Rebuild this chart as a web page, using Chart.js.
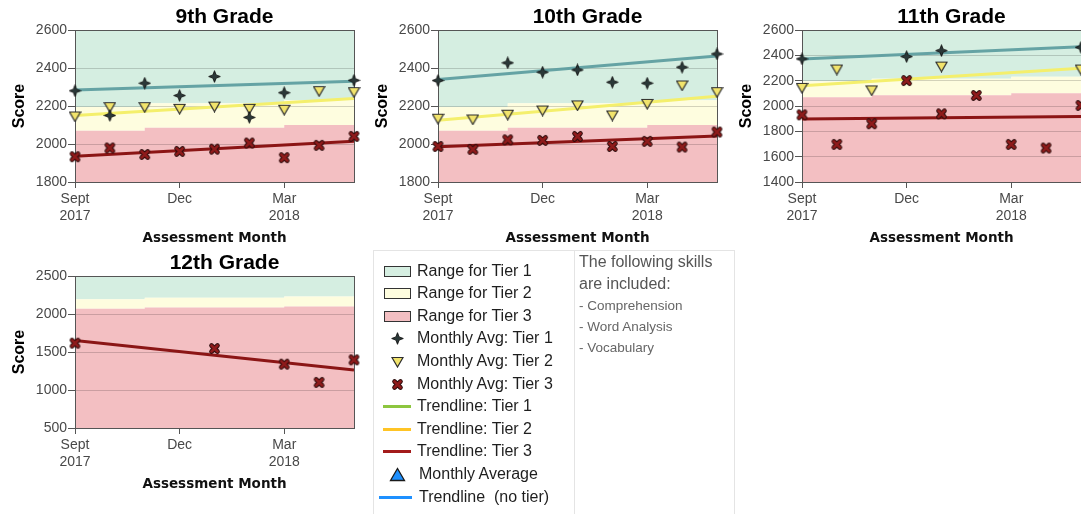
<!DOCTYPE html>
<html><head><meta charset="utf-8">
<script src="https://cdn.jsdelivr.net/npm/chart.js@4.4.1/dist/chart.umd.min.js"></script>
<style>
html,body{margin:0;padding:0;background:#fff;width:1081px;height:514px;overflow:hidden;position:relative;font-family:"Liberation Sans",Arial,sans-serif;}
canvas.ch{position:absolute;}
#legend{position:absolute;left:373px;top:250px;width:362px;height:290px;border:1px solid #e4e4e4;box-sizing:border-box;}
#legend .div{position:absolute;left:200px;top:0;width:1px;height:100%;background:#e4e4e4;}
#legend .row{position:absolute;left:0;height:20px;width:200px;}
#legend .lt{position:absolute;top:0;line-height:20px;font-size:16px;color:#1e1e1e;white-space:pre;}
#legend .ico{position:absolute;}
#legend .rt{position:absolute;left:205px;line-height:20px;white-space:pre;}
</style></head><body>
<canvas class="ch" id="c9" width="366" height="247" style="left:0;top:0"></canvas>
<canvas class="ch" id="c10" width="366" height="247" style="left:363px;top:0"></canvas>
<canvas class="ch" id="c11" width="366" height="247" style="left:727px;top:0"></canvas>
<canvas class="ch" id="c12" width="366" height="247" style="left:0;top:246px"></canvas>
<div id="legend"><div class="div"></div></div>
<script>
// ---- data ----
const months = [0, 1, 2, 3, 4, 5, 6, 7, 8];           // Sept 2017 ... May 2018
const trendMonths = [0, 8];
const tickMonths = [0, 3, 6];
const tickLabels = [['Sept', '2017'], 'Dec', ['Mar', '2018']];

const tier3Top = [2070, 2070, 2085, 2085, 2085, 2085, 2100, 2100, 2100];
const tier2Top = [2195, 2195, 2215, 2215, 2215, 2215, 2230, 2230, 2230];

const g9Tier1 = [2280, 2150, 2320, 2255, 2355, 2140, 2270, null, 2335];
const g9Tier2 = [2145, 2194, 2194, 2185, 2197, 2185, 2180, 2278, 2273];
const g9Tier3 = [1933, 1979, 1945, 1961, 1973, 2005, 1928, 1993, 2040];
const g9Trend1 = [2284, 2330];
const g9Trend2 = [2150, 2240];
const g9Trend3 = [1935, 2015];

const g10Tier1 = [2334, null, 2427, 2378, 2390, 2325, 2320, 2404, 2474];
const g10Tier2 = [2133, 2129, 2154, 2176, 2203, 2150, 2211, 2308, 2273];
const g10Tier3 = [1987, 1972, 2022, 2019, 2040, 1987, 2014, 1984, 2063];
const g10Trend1 = [2340, 2463];
const g10Trend2 = [2125, 2252];
const g10Trend3 = [1985, 2042];

const g11Tier1 = [2372, null, null, 2390, 2437, null, null, null, 2463];
const g11Tier2 = [2143, 2288, 2123, null, 2311, null, null, null, 2288];
const g11Tier3 = [1930, 1697, 1860, 2201, 1938, 2083, 1697, 1668, 2004];
const g11Trend1 = [2372, 2468];
const g11Trend2 = [2160, 2298];
const g11Trend3 = [1898, 1918];

const g12Tier1 = [null, null, null, null, null, null, null, null, null];
const g12Tier2 = [null, null, null, null, null, null, null, null, null];
const g12Tier3 = [1616, null, null, null, 1546, null, 1340, 1100, 1397];
const g12Trend1 = [];
const g12Trend2 = [];
const g12Trend3 = [1650, 1262];

// ---- styles ----
const GRN = '#d5eee1', YEL = '#fefddf', RED = '#f3bfc2';

function mk(w, h, draw) { const c = document.createElement('canvas'); c.width = w; c.height = h; draw(c.getContext('2d')); return c; }
function drawStar(g) {
  const c = 6.5, R = 5.8, r = 1.6;
  g.beginPath();
  g.moveTo(c, c - R); g.lineTo(c + r, c - r); g.lineTo(c + R, c); g.lineTo(c + r, c + r);
  g.lineTo(c, c + R); g.lineTo(c - r, c + r); g.lineTo(c - R, c); g.lineTo(c - r, c - r); g.closePath();
  g.fillStyle = '#2a3838'; g.fill(); g.strokeStyle = '#111'; g.lineWidth = 0.9; g.stroke();
}
function drawTri(g) {
  g.beginPath(); g.moveTo(1, 1.5); g.lineTo(12, 1.5); g.lineTo(6.5, 11); g.closePath();
  g.fillStyle = '#f2e46c'; g.fill(); g.strokeStyle = '#2d2d2d'; g.lineWidth = 1.2; g.stroke();
}
function drawX(g) {
  g.lineCap = 'round';
  g.beginPath(); g.moveTo(3.5, 3.5); g.lineTo(9.5, 9.5); g.moveTo(9.5, 3.5); g.lineTo(3.5, 9.5);
  g.strokeStyle = '#2a0a0a'; g.lineWidth = 4.6; g.stroke();
  g.strokeStyle = '#8e1b1b'; g.lineWidth = 2.8; g.stroke();
}
function drawUp(g) {
  g.beginPath(); g.moveTo(8.5, 1.5); g.lineTo(15.5, 13.5); g.lineTo(1.5, 13.5); g.closePath();
  g.fillStyle = '#1e90ff'; g.fill(); g.strokeStyle = '#1a1a1a'; g.lineWidth = 1.3; g.stroke();
}
const starImg = mk(13, 13, drawStar);
const triImg = mk(13, 12, drawTri);
const xImg = mk(13, 13, drawX);

function pts(arr) { return months.map((m, i) => arr[i] == null ? null : {x: m, y: arr[i]}).filter(Boolean); }
function trend(arr) { return arr.map((v, i) => ({x: trendMonths[i], y: v})); }

Chart.defaults.font.family = '"Liberation Sans", Arial, sans-serif';

const titleShift = {
  id: 'titleShift',
  afterLayout(chart, args, opts) {
    const t = chart.titleBlock;
    if (t && opts.dx) { t.left += opts.dx; t.right += opts.dx; }
  }
};
const frame = {
  id: 'frame',
  beforeDatasetsDraw(chart) {
    const {ctx, chartArea: a} = chart;
    ctx.save();
    ctx.strokeStyle = '#555'; ctx.lineWidth = 1;
    const t = Math.round(a.top) + 0.5, r = Math.round(a.right) + 0.5;
    ctx.beginPath();
    ctx.moveTo(Math.round(a.left), t); ctx.lineTo(r + 0.5, t);
    ctx.moveTo(r, t); ctx.lineTo(r, Math.round(a.bottom) + 1);
    ctx.stroke();
    ctx.restore();
  }
};

function build(id, title, yMin, yMax, yStep, t1, t2, t3, tr1, tr2, tr3) {
  const band = {stepped: true, borderWidth: 0, borderColor: 'transparent', pointRadius: 0};
  return new Chart(document.getElementById(id), {
    type: 'line',
    data: {datasets: [
      {label: 'Monthly Avg: Tier 1', data: pts(t1), showLine: false, pointStyle: starImg, pointRadius: 5, order: 1, clip: false},
      {label: 'Monthly Avg: Tier 2', data: pts(t2), showLine: false, pointStyle: triImg, pointRadius: 5, order: 2, clip: false},
      {label: 'Monthly Avg: Tier 3', data: pts(t3), showLine: false, pointStyle: xImg, pointRadius: 5, order: 3, clip: false},
      {label: 'Trendline: Tier 1', data: trend(tr1), borderColor: 'rgba(95,158,160,0.95)', borderWidth: 3, pointRadius: 0, order: 4},
      {label: 'Trendline: Tier 2', data: trend(tr2), borderColor: '#f4ef6c', borderWidth: 3, pointRadius: 0, order: 5},
      {label: 'Trendline: Tier 3', data: trend(tr3), borderColor: '#8b1515', borderWidth: 3, pointRadius: 0, order: 6},
      Object.assign({label: 'Range for Tier 3', data: pts(tier3Top), fill: 'start', backgroundColor: RED, order: 10}, band),
      Object.assign({label: 'Range for Tier 2', data: pts(tier2Top), fill: 6, backgroundColor: YEL, order: 11}, band),
      Object.assign({label: 'Range for Tier 1', data: pts(tier2Top), fill: 'end', backgroundColor: GRN, order: 12}, band)
    ]},
    options: {
      responsive: false, animation: false, events: [],
      layout: {padding: {left: 0, right: 12, top: 0, bottom: 0}},
      plugins: {
        legend: {display: false}, tooltip: {enabled: false},
        filler: {drawTime: 'beforeDraw'},
        title: {display: true, text: title, fullSize: false, color: '#000',
          font: {size: 21, weight: 'bold', lineHeight: '25px'}, padding: {top: 5, bottom: 0}},
        titleShift: {dx: 10}
      },
      scales: {
        x: {
          type: 'linear', min: 0, max: 8,
          afterFit: s => { s.height = 65; },
          afterBuildTicks: s => { s.ticks = tickMonths.map(v => ({value: v})); },
          ticks: {callback: (v, i) => tickLabels[i], color: '#484848', font: {size: 14}, padding: 3, maxRotation: 0, autoSkip: false},
          grid: {drawOnChartArea: false, drawTicks: true, tickLength: 6, tickColor: '#555'},
          border: {display: true, color: '#555'},
          title: {display: true, text: 'Assessment Month', color: '#111',
            font: {family: '"DejaVu Sans", sans-serif', size: 13.5, weight: 'bold'}, padding: {top: 0, bottom: 0}}
        },
        y: {
          min: yMin, max: yMax,
          afterFit: s => { s.width = 75; },
          ticks: {stepSize: yStep, callback: v => String(v), color: '#484848', font: {size: 14}, padding: 1},
          grid: {color: 'rgba(0,0,0,0.17)', tickColor: '#555', tickLength: 7},
          border: {color: '#555'},
          title: {display: true, text: 'Score', color: '#000', font: {size: 16, weight: 'bold'}, padding: {top: 9.5, bottom: 0}}
        }
      }
    },
    plugins: [titleShift, frame]
  });
}

build('c9', '9th Grade', 1800, 2600, 200, g9Tier1, g9Tier2, g9Tier3, g9Trend1, g9Trend2, g9Trend3);
build('c10', '10th Grade', 1800, 2600, 200, g10Tier1, g10Tier2, g10Tier3, g10Trend1, g10Trend2, g10Trend3);
build('c11', '11th Grade', 1400, 2600, 200, g11Tier1, g11Tier2, g11Tier3, g11Trend1, g11Trend2, g11Trend3);
build('c12', '12th Grade', 500, 2500, 500, g12Tier1, g12Tier2, g12Tier3, g12Trend1, g12Trend2, g12Trend3);

// ---- legend panel ----
const legendItems = [
  {kind: 'box', color: GRN, text: 'Range for Tier 1'},
  {kind: 'box', color: YEL, text: 'Range for Tier 2'},
  {kind: 'box', color: RED, text: 'Range for Tier 3'},
  {kind: 'img', draw: drawStar, w: 13, h: 13, text: 'Monthly Avg: Tier 1'},
  {kind: 'img', draw: drawTri, w: 13, h: 12, text: 'Monthly Avg: Tier 2'},
  {kind: 'img', draw: drawX, w: 13, h: 13, text: 'Monthly Avg: Tier 3'},
  {kind: 'line', color: '#8dc63f', text: 'Trendline: Tier 1'},
  {kind: 'line', color: '#ffc425', text: 'Trendline: Tier 2'},
  {kind: 'line', color: '#a31b1b', text: 'Trendline: Tier 3'},
  {kind: 'img', draw: drawUp, w: 17, h: 15, text: 'Monthly Average', tx: 45},
  {kind: 'line', color: '#1e90ff', text: 'Trendline  (no tier)', tx: 45, x0: 5, x1: 38}
];
const lg = document.getElementById('legend');
legendItems.forEach((it, i) => {
  const cy = 19.6 + 22.6 * i;
  const row = document.createElement('div');
  row.className = 'row'; row.style.top = (cy - 10) + 'px';
  let ico;
  if (it.kind === 'box') {
    ico = document.createElement('div');
    ico.className = 'ico';
    Object.assign(ico.style, {left: '10px', top: '5px', width: '27px', height: '11px', background: it.color, border: '1px solid #333', boxSizing: 'border-box'});
  } else if (it.kind === 'line') {
    ico = document.createElement('div');
    ico.className = 'ico';
    const x0 = it.x0 || 9, x1 = it.x1 || 37;
    Object.assign(ico.style, {left: x0 + 'px', top: '9px', width: (x1 - x0) + 'px', height: '3px', background: it.color});
  } else {
    ico = mk(it.w, it.h, it.draw);
    ico.className = 'ico';
    ico.style.left = (23 - it.w / 2) + 'px';
    ico.style.top = (10.5 - it.h / 2) + 'px';
  }
  row.appendChild(ico);
  const t = document.createElement('span');
  t.className = 'lt'; t.style.left = (it.tx || 43) + 'px'; t.textContent = it.text;
  row.appendChild(t);
  lg.appendChild(row);
});
const notes = [
  {text: 'The following skills', cy: 10.5, size: 16, color: '#555'},
  {text: 'are included:', cy: 32.5, size: 16, color: '#555'},
  {text: '- Comprehension', cy: 54.5, size: 13.5, color: '#666'},
  {text: '- Word Analysis', cy: 75.5, size: 13.5, color: '#666'},
  {text: '- Vocabulary', cy: 96.6, size: 13.5, color: '#666'}
];
notes.forEach(n => {
  const d = document.createElement('div');
  d.className = 'rt'; d.textContent = n.text;
  Object.assign(d.style, {top: (n.cy - 10) + 'px', fontSize: n.size + 'px', color: n.color});
  lg.appendChild(d);
});
</script>
</body></html>
